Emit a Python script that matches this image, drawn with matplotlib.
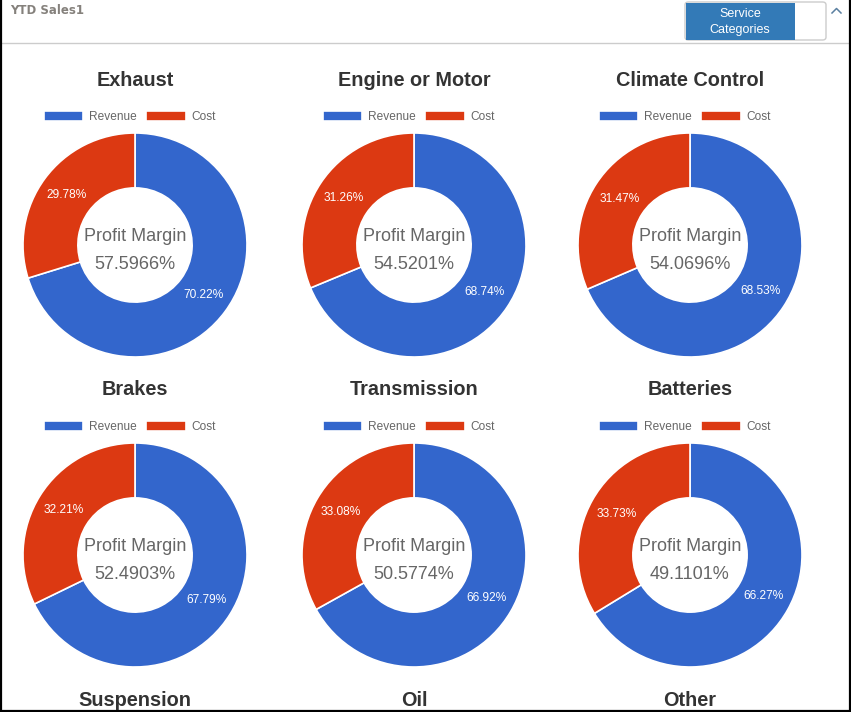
import matplotlib
matplotlib.use("Agg")
import matplotlib.pyplot as plt
from matplotlib.patches import Rectangle, FancyBboxPatch
from matplotlib.lines import Line2D

# ---- data ----
categories = ["Exhaust", "Engine or Motor", "Climate Control",
              "Brakes", "Transmission", "Batteries",
              "Suspension", "Oil", "Other"]
revenue_pct = [70.22, 68.74, 68.53, 67.79, 66.92, 66.27]
cost_pct = [29.78, 31.26, 31.47, 32.21, 33.08, 33.73]
profit_margin = ["57.5966%", "54.5201%", "54.0696%", "52.4903%", "50.5774%", "49.1101%"]
series_labels = ["Revenue", "Cost"]
header_title = "YTD Sales1"
button_label = "Service\nCategories"

BLUE = "#3366cc"
RED = "#dc3912"

W, H = 851, 712
fig = plt.figure(figsize=(W / 100, H / 100), dpi=100)
fig.patch.set_facecolor("white")
plt.rcParams["font.family"] = ["Liberation Sans", "DejaVu Sans"]


def fx(x):
    return x / W


def fy(y):
    return 1 - y / H


# header
fig.text(fx(10), fy(11), header_title, fontsize=8.5, fontweight="bold",
         color="#85817c", ha="left", va="center", family=["DejaVu Sans"])
fig.add_artist(Line2D([0, 1], [fy(43), fy(43)], color="#cccccc", lw=1))
# button
fig.add_artist(FancyBboxPatch((fx(685), fy(40)), fx(826) - fx(685), fy(2) - fy(40),
                              boxstyle="round,pad=0,rounding_size=0.004",
                              facecolor="white", edgecolor="#cccccc", lw=1))
fig.add_artist(Rectangle((fx(686), fy(39.5)), fx(795) - fx(686), fy(2.5) - fy(39.5),
                         facecolor="#337ab7", edgecolor="none"))
fig.text(fx(740), fy(22), button_label, fontsize=9, color="white",
         ha="center", va="center", linespacing=1.5)
fig.add_artist(Line2D([fx(832), fx(836.5), fx(841)], [fy(13), fy(8.5), fy(13)],
                      color="#5a7fa0", lw=1.1))

col_x = [135, 414, 690]
row_y = [245, 555, 865]
R = 112  # outer radius in px
half = 120

for i, name in enumerate(categories):
    r, c = divmod(i, 3)
    cx, cy = col_x[c], row_y[r]
    # title
    fig.text(fx(cx), fy(cy - 165), name, fontsize=14.3, fontweight="bold",
             color="#333333", ha="center", va="center")
    if i >= len(revenue_pct):
        continue
    ax = fig.add_axes([fx(cx - half), fy(cy + half), 2 * half / W, 2 * half / H])
    ax.axis("off")
    wedges, texts, autotexts = ax.pie(
        [revenue_pct[i], cost_pct[i]], colors=[BLUE, RED], startangle=90,
        counterclock=False, radius=1, autopct="%.2f%%", pctdistance=0.755,
        wedgeprops=dict(width=0.49, edgecolor="white", linewidth=1.2),
        textprops=dict(color="white", fontsize=8.6))
    ax.set_aspect("equal")
    ax.set_xlim(-half / R, half / R)
    ax.set_ylim(-half / R, half / R)
    ax.text(0, 0.075, "Profit Margin", ha="center", va="center",
            fontsize=13, color="#666666")
    ax.text(0, -0.17, profit_margin[i], ha="center", va="center",
            fontsize=13, color="#666666")
    # legend
    fig.legend(wedges, series_labels, loc="center",
               bbox_to_anchor=(fx(cx - 5), fy(cy - 128)), ncol=2, frameon=False,
               fontsize=8.6, labelcolor="#666666", handlelength=3.3,
               handleheight=0.85, handletextpad=0.5, columnspacing=0.8,
               borderpad=0)

# outer border: left, right, bottom
for xs, ys in [([fx(1), fx(1)], [fy(0), fy(711)]),
               ([fx(850), fx(850)], [fy(0), fy(711)]),
               ([fx(0), fx(851)], [fy(711), fy(711)])]:
    fig.add_artist(Line2D(xs, ys, color="black", lw=1.6))

fig.savefig("out.png", dpi=100)
